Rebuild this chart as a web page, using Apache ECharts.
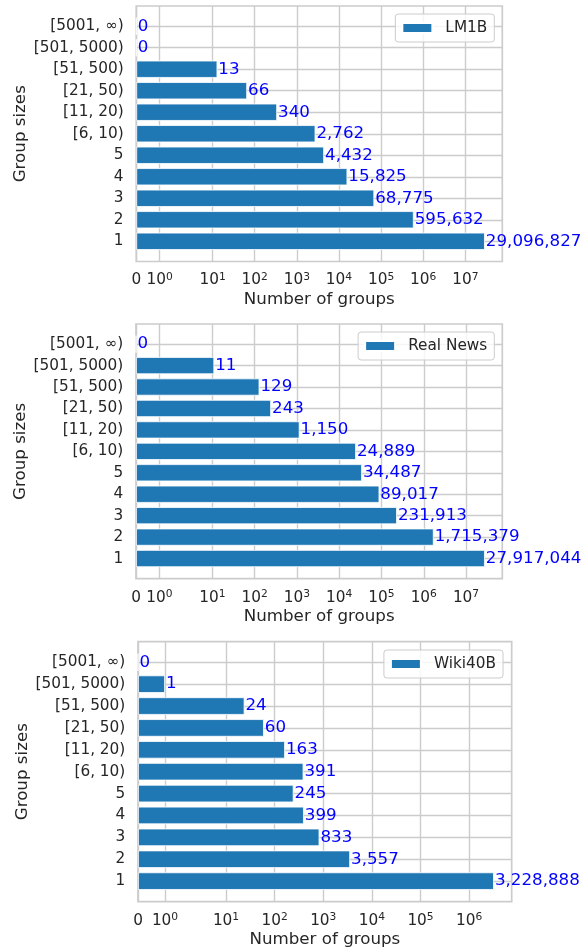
<!DOCTYPE html>
<html><head><meta charset="utf-8">
<script src="https://cdn.jsdelivr.net/npm/echarts@6/dist/echarts.min.js"></script>
<style>html,body{margin:0;padding:0;background:#fff}#c{width:587px;height:948px}</style>
</head><body><div id="c"></div>
<script>
// ---- data ----
const categories = ['1', '2', '3', '4', '5', '[6, 10)', '[11, 20)', '[21, 50)', '[51, 500)', '[501, 5000)', '[5001, \u221e)'];
const lm1b = [29096827, 595632, 68775, 15825, 4432, 2762, 340, 66, 13, 0, 0];
const realNews = [27917044, 1715379, 231913, 89017, 34487, 24889, 1150, 243, 129, 11, 0];
const wiki40b = [3228888, 3557, 833, 399, 245, 391, 163, 60, 24, 1, 0];
const seriesNames = ['LM1B', 'Real News', 'Wiki40B'];
const tickValuesTop = [0, 1, 10, 100, 1000, 10000, 100000, 1000000, 10000000];
const tickValuesMid = [0, 1, 10, 100, 1000, 10000, 100000, 1000000, 10000000];
const tickValuesBot = [0, 1, 10, 100, 1000, 10000, 100000, 1000000];
const xAxisName = 'Number of groups';
const yAxisName = 'Group sizes';

// ---- symlog scale (matplotlib default: linthresh 2, linscale 1, base 10) ----
const LT = 2, LS = 1, BASE = 10;
const LSA = LS / (1 - 1 / BASE);
function symlog(x) {
  const a = Math.abs(x), s = Math.sign(x);
  if (a <= LT) return x * LSA;
  return s * LT * (LSA + Math.log10(a / LT));
}

// ---- layout / style ----
const FONT = 'DejaVu Sans';
const TXT = '#262626';
const GRIDC = '#cccccc';
const frames = [
  { left: 136.3, top: 6, width: 366, height: 255.5 },
  { left: 136, top: 324, width: 366.3, height: 254.7 },
  { left: 138, top: 641.7, width: 373.7, height: 260 }
];
const legendPos = [
  { right: 92.7, top: 14 },
  { right: 92.7, top: 332 },
  { right: 84, top: 650 }
];
const datasets = [lm1b, realNews, wiki40b];
const tickSets = [tickValuesTop, tickValuesMid, tickValuesBot];

const grid = [], xAxis = [], yAxis = [], series = [], legend = [];
datasets.forEach((raw, i) => {
  const fr = frames[i];
  const unit = fr.height / 11.88;
  const maxT = symlog(Math.max(...raw)) * 1.05;
  const ticks = tickSets[i].map(symlog);
  const labelFor = (v) => {
    let best = 0, bd = Infinity;
    ticks.forEach((t, k) => { const d = Math.abs(t - v); if (d < bd) { bd = d; best = k; } });
    const orig = tickSets[i][best];
    if (orig === 0) return '{b|0}';
    return '{b|10}{s|' + Math.round(Math.log10(orig)) + '}';
  };
  grid.push({ left: fr.left, top: fr.top, width: fr.width, height: fr.height, show: true,
    borderColor: GRIDC, borderWidth: 1.7, backgroundColor: 'transparent', outerBoundsMode: 'none' });
  grid.push({ left: fr.left, top: fr.top + 0.94 * unit, width: fr.width, height: 10 * unit, show: false, outerBoundsMode: 'none' });

  xAxis.push({
    gridIndex: 2 * i, type: 'value', min: 0, max: maxT,
    axisLine: { show: false },
    axisTick: { show: false, customValues: ticks },
    axisLabel: {
      customValues: ticks, margin: 10, formatter: labelFor, color: TXT, fontFamily: FONT,
      rich: {
        b: { fontSize: 15.3, lineHeight: 18, color: TXT, fontFamily: FONT },
        s: { fontSize: 10.7, lineHeight: 11, verticalAlign: 'top', color: TXT, fontFamily: FONT }
      }
    },
    splitLine: { show: true, lineStyle: { color: GRIDC, width: 1.4 } },
    name: xAxisName, nameLocation: 'middle', nameGap: 29.5, nameMoveOverlap: false,
    nameTextStyle: { fontSize: 16.7, color: TXT, fontFamily: FONT }
  });
  xAxis.push({ gridIndex: 2 * i + 1, type: 'value', min: 0, max: maxT, show: false });

  yAxis.push({ gridIndex: 2 * i, type: 'value', show: false, min: 0, max: 1 });
  yAxis.push({
    gridIndex: 2 * i + 1, type: 'category', data: categories, boundaryGap: false,
    axisLine: { show: false }, axisTick: { show: false },
    axisLabel: { interval: 0, margin: 12.7, fontSize: 15.3, color: TXT, fontFamily: FONT },
    splitLine: { show: true, lineStyle: { color: GRIDC, width: 1.4 } },
    name: yAxisName, nameLocation: 'middle', nameGap: 107, nameMoveOverlap: false,
    nameTextStyle: { fontSize: 16.7, color: TXT, fontFamily: FONT }
  });

  series.push({
    type: 'bar', name: seriesNames[i], xAxisIndex: 2 * i + 1, yAxisIndex: 2 * i + 1,
    data: raw.map(symlog), barWidth: 0.8 * unit, clip: false,
    itemStyle: { color: '#1f77b4', borderColor: '#ffffff', borderWidth: 0.8 },
    label: {
      show: true, position: 'right', distance: 1,
      formatter: (p) => raw[p.dataIndex].toLocaleString('en-US'),
      color: '#0000ff', fontSize: 16.7, fontFamily: FONT
    }
  });

  legend.push({
    data: [seriesNames[i]], right: legendPos[i].right, top: legendPos[i].top,
    icon: 'rect', itemWidth: 30, itemHeight: 10, selectedMode: false,
    padding: [6, 7, 6, 6], borderColor: GRIDC, borderWidth: 1, borderRadius: 3,
    backgroundColor: 'rgba(255,255,255,0.8)',
    textStyle: { fontSize: 15.3, color: TXT, fontFamily: FONT, lineHeight: 16, padding: [0, 0, 0, 8] }
  });
});

const chart = echarts.init(document.getElementById('c'), null, { renderer: 'canvas' });
chart.setOption({
  animation: false,
  backgroundColor: '#ffffff',
  textStyle: { fontFamily: FONT },
  grid, xAxis, yAxis, series, legend
});
</script>
</body></html>
